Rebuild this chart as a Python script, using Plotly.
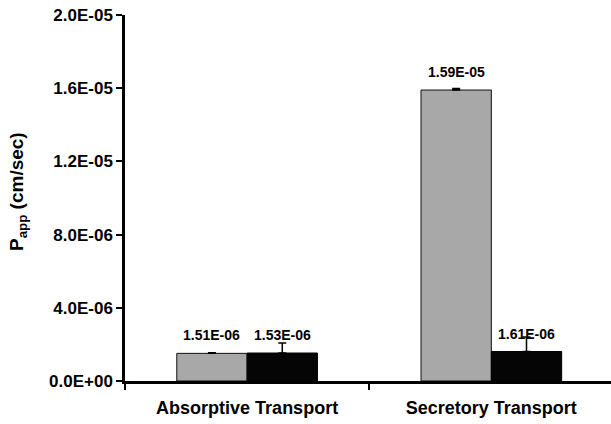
import plotly.graph_objects as go

categories = ["Absorptive Transport", "Secretory Transport"]
gray_values = [1.51e-06, 1.59e-05]
gray_errors = [0.03e-06, 0.08e-06]
black_values = [1.53e-06, 1.61e-06]
black_errors = [0.55e-06, 0.80e-06]
gray_labels = ["1.51E-06", "1.59E-05"]
black_labels = ["1.53E-06", "1.61E-06"]
y_tickvals = [0, 4e-06, 8e-06, 1.2e-05, 1.6e-05, 2e-05]
y_ticktext = ["0.0E+00", "4.0E-06", "8.0E-06", "1.2E-05", "1.6E-05", "2.0E-05"]

FONT = "Liberation Sans, Arial, sans-serif"
BARGAP = 0.424

fig = go.Figure()
fig.add_trace(go.Bar(
    x=categories, y=gray_values,
    marker=dict(color="#a8a8a8", line=dict(color="#111111", width=1)),
    error_y=dict(type="data", array=gray_errors, color="#000000", thickness=1.5, width=4, symmetric=False, arrayminus=[0, 0]),
    showlegend=False,
))
fig.add_trace(go.Bar(
    x=categories, y=black_values,
    marker=dict(color="#050505", line=dict(color="#000000", width=1)),
    error_y=dict(type="data", array=black_errors, color="#000000", thickness=1.5, width=4, symmetric=False, arrayminus=[0, 0]),
    showlegend=False,
))

off = (1 - BARGAP) / 4
annotations = []
for i in range(len(categories)):
    annotations.append(dict(x=i - off, y=gray_values[i], xref="x", yref="y", text=gray_labels[i],
                            showarrow=False, yanchor="bottom", yshift=8,
                            font=dict(family=FONT, size=14, color="#000000", weight="bold")))
    annotations.append(dict(x=i + off, y=black_values[i], xref="x", yref="y", text=black_labels[i],
                            showarrow=False, yanchor="bottom", yshift=8,
                            font=dict(family=FONT, size=14, color="#000000", weight="bold")))

plot_w = 611 - 125
plot_h = 424 - 15 - 43
annotations.append(dict(x=(18 - 125) / plot_w, y=(424 - 43 - 192) / plot_h, xref="paper", yref="paper",
                        text="P<sub>app</sub> (cm/sec)",
                        showarrow=False, textangle=-90, xanchor="center", yanchor="middle",
                        font=dict(family=FONT, size=19, color="#000000", weight="bold")))

fig.update_layout(
    width=611, height=424,
    margin=dict(l=125, r=0, t=15, b=43),
    paper_bgcolor="white", plot_bgcolor="white",
    barmode="group", bargap=BARGAP, bargroupgap=0,
    annotations=annotations,
    font=dict(family=FONT, color="#000000"),
)

fig.update_yaxes(
    range=[0, 2e-05], tickvals=y_tickvals, ticktext=y_ticktext,
    showgrid=False, zeroline=False,
    showline=True, linecolor="#000000", linewidth=2.5,
    ticks="outside", ticklen=6, tickwidth=2, tickcolor="#000000",
    tickfont=dict(family=FONT, size=17, color="#000000", weight="bold"),
)
fig.update_xaxes(
    type="category", range=[-0.5, 1.49],
    showgrid=False, zeroline=False,
    showline=True, linecolor="#000000", linewidth=2.5,
    ticks="outside", tickson="boundaries", ticklen=6, tickwidth=2, tickcolor="#000000",
    ticklabelstandoff=9,
    tickfont=dict(family=FONT, size=18, color="#000000", weight="bold"),
)

fig.write_html("out.html")
